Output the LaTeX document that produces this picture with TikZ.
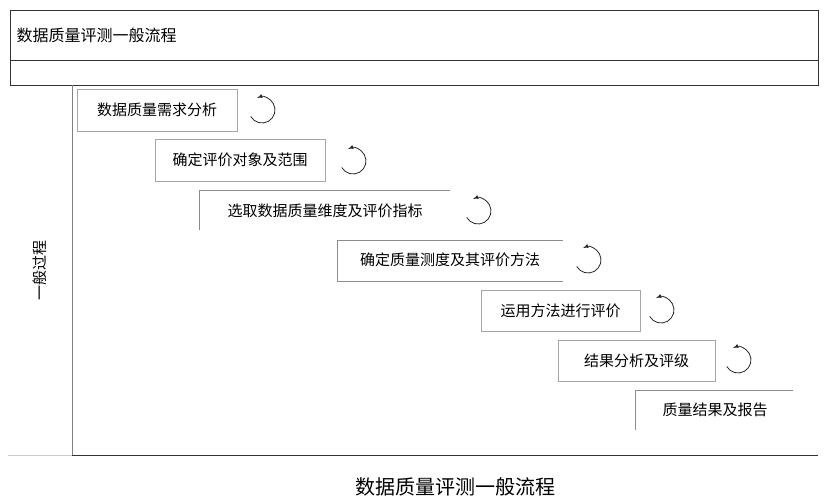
\documentclass[tikz,border=0pt]{standalone}
\usepackage{fontspec}
\setmainfont{Noto Sans CJK SC}
\usetikzlibrary{arrows}

\begin{document}
\begin{tikzpicture}[x=1pt,y=-1pt,
  stepbox/.style={draw=black!35, inner sep=0pt, anchor=north west},
  steptext/.style={font=\fontsize{15}{17}\selectfont},
  loop/.style={draw=black!85, thick, -latex}]
  \useasboundingbox (0,0) rectangle (833,500);
  % frame
  \node[draw=black!80, thick, minimum width=808pt, minimum height=50pt, anchor=north west, inner sep=0pt] (Head) at (10,10) {};
  \node[anchor=west, font=\fontsize{16}{18}\selectfont] (HeadText) at (13,35) {数据质量评测一般流程};
  \node[draw=black!80, thick, minimum width=808pt, minimum height=25pt, anchor=north west, inner sep=0pt] (Strip) at (10,60) {};
  \coordinate (Corner) at (72,455);
  \draw[black!50] (72,85) -- (Corner);
  \draw[black!80, thick] (Corner) -- (818,455);
  \draw[black!20] (8,455) -- (Corner);
  \node[rotate=90, font=\fontsize{15}{17}\selectfont] (Side) at (40,270) {一般过程};

  % steps with full border
  \node[stepbox, minimum width=160pt, minimum height=42pt] (Need) at (77,89) {};
  \node[steptext] (NeedText) at (Need.center) {数据质量需求分析};
  \node[stepbox, minimum width=170pt, minimum height=42pt] (Scope) at (155,139) {};
  \node[steptext] (ScopeText) at (Scope.center) {确定评价对象及范围};
  \node[stepbox, minimum width=159pt, minimum height=41pt] (Apply) at (481,290) {};
  \node[steptext] (ApplyText) at (Apply.center) {运用方法进行评价};
  \node[stepbox, minimum width=157pt, minimum height=41pt] (Grade) at (558,340) {};
  \node[steptext] (GradeText) at (Grade.center) {结果分析及评级};

  % steps with open border
  \node[steptext] (Dim) at (325,211) {选取数据质量维度及评价指标};
  \draw[black!45] (199,230) -- (199,190) -- (450,190);
  \node[steptext] (Method) at (450,260) {确定质量测度及其评价方法};
  \draw[black!45] (563,281) -- (337,281) -- (337,240) -- (563,240);
  \node[steptext] (Report) at (715,410) {质量结果及报告};
  \draw[black!45] (635,430) -- (635,390) -- (793,390);

  % loops
  \foreach \cx/\cy in {262/110, 353/161, 478/211, 588/260, 661/310, 738/360}
    \draw[loop] (\cx,\cy) ++(150:13) arc[start angle=150, end angle=-112, radius=13];

  \node[font=\fontsize{20}{22}\selectfont] (Caption) at (455,487) {数据质量评测一般流程};
\end{tikzpicture}
\end{document}
